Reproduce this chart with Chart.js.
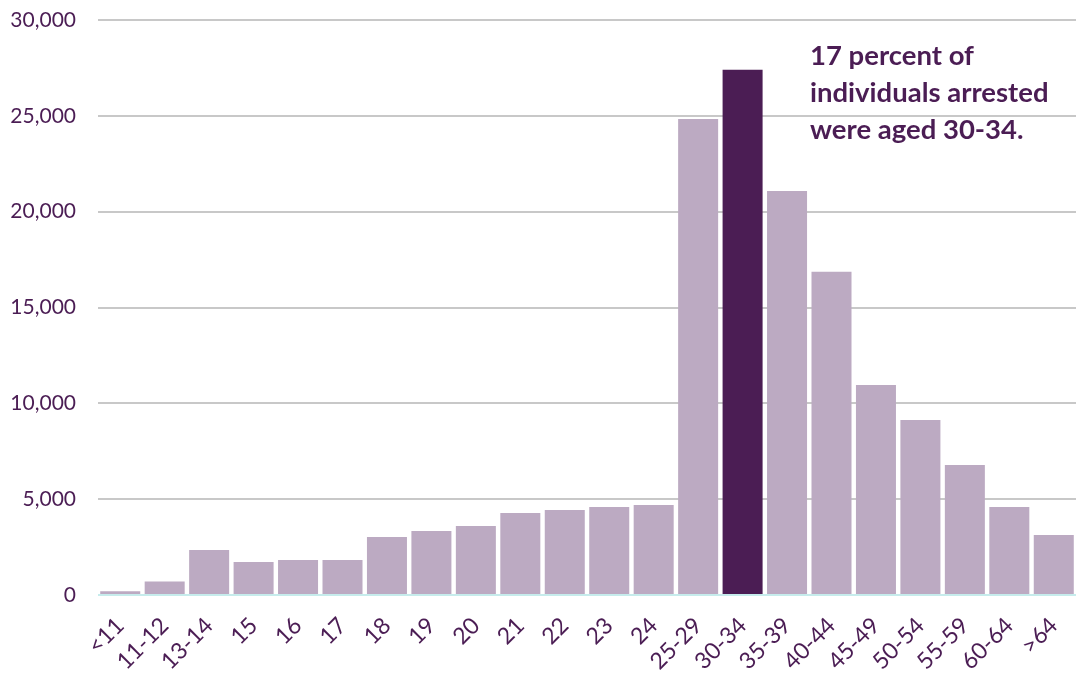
<!DOCTYPE html>
<html>
<head>
<meta charset="utf-8">
<script src="https://cdn.jsdelivr.net/npm/chart.js@4"></script>
<style>
  html, body { margin: 0; padding: 0; background: #fff; }
  #wrap { width: 1078px; height: 676px; position: relative; }
</style>
</head>
<body>
<div id="wrap"><canvas id="ageChart"></canvas></div>
<script>
const ageGroups = ["<11", "11-12", "13-14", "15", "16", "17", "18", "19", "20", "21", "22",
    "23", "24", "25-29", "30-34", "35-39", "40-44", "45-49", "50-54", "55-59", "60-64", ">64"];
const arrests = [200, 700, 2350, 1720, 1830, 1830, 3030, 3340, 3600, 4280, 4440,
    4590, 4700, 24840, 27400, 21080, 16860, 10960, 9130, 6780, 4590, 3130];
const highlightGroup = "30-34";
const yTicks = [0, 5000, 10000, 15000, 20000, 25000, 30000];
const noteLines = ["17 percent of", "individuals arrested", "were aged 30-34."];

const purple = "#4b1d54";
const lightPurple = "#bcaac2";

const notePlugin = {
    id: "note",
    afterDraw(chart) {
        const ctx = chart.ctx;
        ctx.save();
        ctx.font = "bold 27.5px Lato";
        ctx.fillStyle = purple;
        ctx.textBaseline = "middle";
        noteLines.forEach(function (line, i) {
            ctx.fillText(line, 810, 56 + i * 37);
        });
        ctx.restore();
    }
};

const ctx = document.getElementById("ageChart").getContext("2d");
new Chart(ctx, {
    type: "bar",
    data: {
        labels: ageGroups,
        datasets: [{
            data: arrests,
            backgroundColor: ageGroups.map(g => g === highlightGroup ? purple : lightPurple),
            barPercentage: 0.9,
            categoryPercentage: 1.0
        }]
    },
    options: {
        responsive: true,
        maintainAspectRatio: false,
        animation: false,
        layout: { padding: { top: 20, right: 2, left: 0, bottom: 0 } },
        plugins: { legend: { display: false }, tooltip: { enabled: false } },
        scales: {
            x: {
                grid: { display: false },
                border: { display: false },
                ticks: {
                    color: purple,
                    font: { family: "Lato", size: 23 },
                    maxRotation: 45,
                    minRotation: 45,
                    autoSkip: false,
                    padding: 9
                },
                afterFit(scale) {
                    scale.height = 81;
                    scale.paddingTop = 0;
                    scale.paddingBottom = 0;
                    scale.paddingLeft = 0;
                    scale.paddingRight = 0;
                }
            },
            y: {
                min: 0,
                max: 30000,
                afterBuildTicks(scale) { scale.ticks = yTicks.map(v => ({ value: v })); },
                grid: {
                    drawTicks: false,
                    lineWidth: 2,
                    color: c => c.tick && c.tick.value === 0 ? "#c6ecec" : "#c8c8c8"
                },
                border: { display: false },
                ticks: {
                    color: purple,
                    font: { family: "Lato", size: 21 },
                    padding: 22,
                    callback: v => v.toLocaleString("en-US")
                },
                afterFit(scale) { scale.width = 98; scale.paddingTop = 0; scale.paddingBottom = 0; }
            }
        }
    },
    plugins: [notePlugin]
});
</script>
</body>
</html>
